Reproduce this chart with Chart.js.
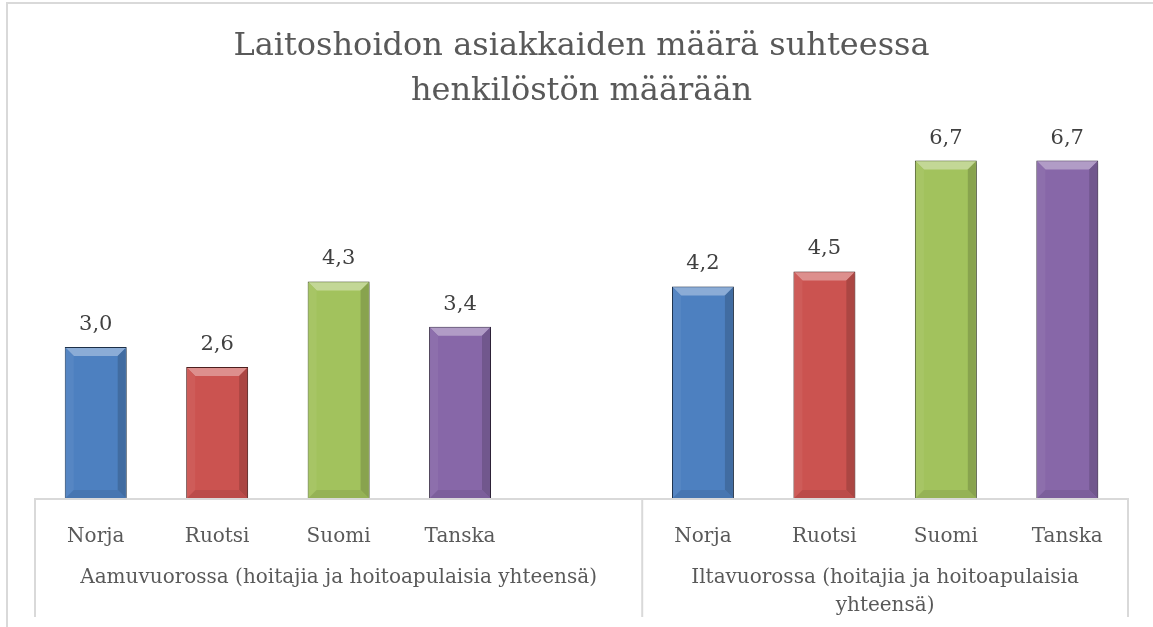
<!DOCTYPE html>
<html>
<head>
<meta charset="utf-8">
<script src="https://cdn.jsdelivr.net/npm/chart.js@4.4.0/dist/chart.umd.min.js"></script>
<style>
  html, body { margin: 0; padding: 0; background: #fff; }
  #wrap { width: 1153px; height: 627px; }
</style>
</head>
<body>
<div id="wrap"><canvas id="chartLaitoshoito"></canvas></div>
<script>
var maat = ['Norja', 'Ruotsi', 'Suomi', 'Tanska']
var aamuvuoro = [3.0, 2.6, 4.3, 3.4]
var iltavuoro = [4.2, 4.5, 6.7, 6.7]
var ryhmat = [
    ['Aamuvuorossa (hoitajia ja hoitoapulaisia yhteensä)'],
    ['Iltavuorossa (hoitajia ja hoitoapulaisia', 'yhteensä)']
]
var otsikko = ['Laitoshoidon asiakkaiden määrä suhteessa', 'henkilöstön määrään']
var varit = ['#4d80c0', '#cb5350', '#a2c25d', '#8767a8']

// the left group has an empty fifth slot, like the original excel chart
var labels = maat.concat([''], maat)
var values = aamuvuoro.concat([null], iltavuoro)
var barColors = varit.concat(['#ffffff'], varit)
var groupRanges = [[0, 4], [5, 8]]

var serif = "'DejaVu Serif', serif"
var gray = '#595959'
var lineColor = '#d9d9d9'

function mix(hex, target, t) {
    let c = parseInt(hex.slice(1), 16)
    let r = (c >> 16) & 255, g = (c >> 8) & 255, b = c & 255
    r = Math.round(r + (target - r) * t)
    g = Math.round(g + (target - g) * t)
    b = Math.round(b + (target - b) * t)
    return 'rgb(' + r + ',' + g + ',' + b + ')'
}

function poly(ctx, pts, color) {
    ctx.beginPath()
    ctx.moveTo(pts[0][0], pts[0][1])
    for (let i = 1; i < pts.length; i++) ctx.lineTo(pts[i][0], pts[i][1])
    ctx.closePath()
    ctx.fillStyle = color
    ctx.fill()
}

// shadow + bevel + value labels on the bars
var bevelPlugin = {
    id: 'bevel',
    beforeDatasetsDraw: function (chart) {
        let ctx = chart.ctx
        ctx.save()
        ctx.shadowColor = 'rgba(0,0,0,0.28)'
        ctx.shadowBlur = 4
        ctx.shadowOffsetX = 2
        ctx.shadowOffsetY = 1
    },
    afterDatasetsDraw: function (chart) {
        let ctx = chart.ctx
        ctx.restore()
        let meta = chart.getDatasetMeta(0)
        meta.data.forEach(function (bar, i) {
            if (values[i] === null) return
            let p = bar.getProps(['x', 'y', 'base', 'width'], true)
            let l = p.x - p.width / 2 + 1, r = p.x + p.width / 2 - 1
            let t = p.y + 1, b = p.base
            let k = 8
            let col = barColors[i]
            poly(ctx, [[l, t], [r, t], [r - k, t + k], [l + k, t + k]], mix(col, 255, 0.35))
            poly(ctx, [[l, t], [l + k, t + k], [l + k, b - k], [l, b]], mix(col, 255, 0.05))
            poly(ctx, [[r, t], [r, b], [r - k, b - k], [r - k, t + k]], mix(col, 0, 0.16))
            poly(ctx, [[l, b], [l + k, b - k], [r - k, b - k], [r, b]], mix(col, 0, 0.08))

            ctx.save()
            ctx.font = '21px ' + serif
            ctx.fillStyle = '#404040'
            ctx.textAlign = 'center'
            ctx.textBaseline = 'alphabetic'
            ctx.fillText(values[i].toFixed(1).replace('.', ','), p.x, p.y - 17)
            ctx.restore()
        })
    }
}

// frame, category axis lines and the group labels
var axisPlugin = {
    id: 'groupAxis',
    afterDraw: function (chart) {
        let ctx = chart.ctx
        let xs = chart.scales.x
        let area = chart.chartArea
        let bottom = 617
        ctx.save()
        ctx.strokeStyle = lineColor
        ctx.lineWidth = 2
        ctx.beginPath()
        ctx.moveTo(7, chart.height)
        ctx.lineTo(7, 3)
        ctx.lineTo(chart.width, 3)
        ctx.stroke()

        ctx.beginPath()
        ctx.moveTo(area.left, area.bottom + 1)
        ctx.lineTo(area.right, area.bottom + 1)
        let edges = [area.left]
        for (let g = 1; g < groupRanges.length; g++) {
            let s = groupRanges[g][0]
            edges.push((xs.getPixelForTick(s - 1) + xs.getPixelForTick(s)) / 2)
        }
        edges.push(area.right)
        edges.forEach(function (x) {
            ctx.moveTo(x, area.bottom)
            ctx.lineTo(x, bottom)
        })
        ctx.stroke()

        ctx.font = '20px ' + serif
        ctx.fillStyle = gray
        ctx.textAlign = 'center'
        ctx.textBaseline = 'middle'
        ryhmat.forEach(function (lines, g) {
            let cx = (edges[g] + edges[g + 1]) / 2
            lines.forEach(function (txt, j) {
                ctx.fillText(txt, cx, 578 + j * 28)
            })
        })
        ctx.restore()
    }
}

var ctx = document.getElementById('chartLaitoshoito')
var chartLaitoshoito = new Chart(ctx, {
    type: 'bar',
    data: {
        labels: labels,
        datasets: [{
            label: 'Asiakkaita / henkilö',
            data: values,
            backgroundColor: barColors,
            borderColor: barColors.map(function (c) { return mix(c, 0, 0.6) }),
            borderWidth: 1,
            barPercentage: 0.51,
            categoryPercentage: 1
        }]
    },
    options: {
        responsive: true,
        maintainAspectRatio: false,
        animation: false,
        layout: {
            padding: { left: 35, right: 25, top: 0, bottom: 0 }
        },
        plugins: {
            legend: { display: false },
            tooltip: { enabled: false },
            title: {
                display: true,
                text: otsikko,
                color: gray,
                font: { family: serif, size: 32, weight: 'normal', lineHeight: 1.38 },
                padding: { top: 25, bottom: 7 }
            }
        },
        scales: {
            x: {
                grid: { display: false },
                border: { display: false },
                ticks: {
                    color: gray,
                    font: { family: serif, size: 20 },
                    padding: 19,
                    maxRotation: 0,
                    autoSkip: false
                },
                afterFit: function (scale) {
                    scale.height = 129
                }
            },
            y: {
                display: false,
                min: 0,
                max: 7.5
            }
        }
    },
    plugins: [bevelPlugin, axisPlugin]
})
</script>
</body>
</html>
